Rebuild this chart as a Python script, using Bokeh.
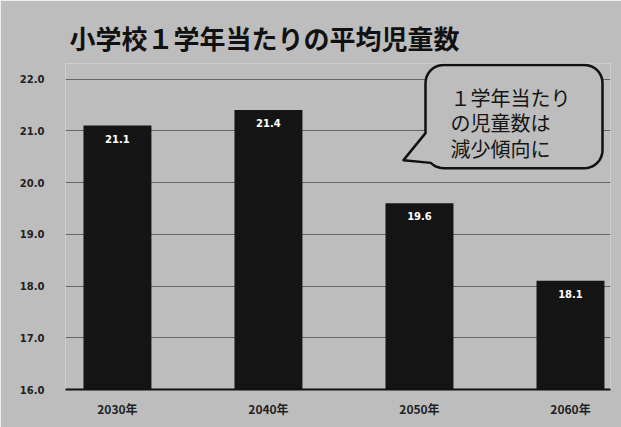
import numpy as np
from bokeh.plotting import figure
from bokeh.models import Range1d, FixedTicker, NumeralTickFormatter
from bokeh.core.properties import value
from bokeh.embed import file_html
from bokeh.resources import INLINE

# ---- data ----
years = ["2030年", "2040年", "2050年", "2060年"]
students = [21.1, 21.4, 19.6, 18.1]
value_labels = ["21.1", "21.4", "19.6", "18.1"]
y_ticks = [16, 17, 18, 19, 20, 21, 22]
title_text = "小学校１学年当たりの平均児童数"
callout_lines = ["１学年当たり", "の児童数は", "減少傾向に"]

# ---- style / layout ----
BG = "#bdbdbd"
BAR = "#141414"
JP = "Noto Sans CJK JP"
W, H = 621, 427

X_START, X_END = -0.344, 3.265
Y_START, Y_END = 16.0, 22.3
FRAME_L, FRAME_R, FRAME_T, FRAME_B = 65, 610, 63.5, 389  # canvas px


def dx(px):  # canvas px -> data x
    return X_START + (px - FRAME_L) / (FRAME_R - FRAME_L) * (X_END - X_START)


def dy(py):  # canvas px -> data y
    return Y_START + (FRAME_B - py) / (FRAME_B - FRAME_T) * (Y_END - Y_START)


xs = list(range(len(years)))

p = figure(width=W, height=H, output_backend="svg", toolbar_location=None,
           x_range=Range1d(X_START, X_END), y_range=Range1d(Y_START, Y_END),
           min_border_left=FRAME_L, min_border_right=W - FRAME_R,
           min_border_top=int(FRAME_T), min_border_bottom=H - FRAME_B,
           background_fill_color=BG, border_fill_color=BG, outline_line_color=None)

p.title.text = title_text
p.title.text_font = JP
p.title.text_font_size = "26px"
p.title.text_font_style = "bold"
p.title.text_color = "#111111"
p.title.align = "left"
p.title.offset = 4
p.title.standoff = 16

# grid
p.xgrid.grid_line_color = None
p.ygrid.ticker = FixedTicker(ticks=y_ticks)
p.ygrid.grid_line_color = "#2a2a2a"
p.ygrid.grid_line_alpha = 0.6
p.ygrid.grid_line_width = 1

# y axis
p.yaxis.ticker = FixedTicker(ticks=y_ticks)
p.yaxis.formatter = NumeralTickFormatter(format="0.0")
p.yaxis.axis_line_color = None
p.yaxis.major_tick_line_color = None
p.yaxis.minor_tick_line_color = None
p.yaxis.major_label_standoff = 15
p.yaxis.major_label_text_font = "DejaVu Sans"
p.yaxis.major_label_text_font_size = "10px"
p.yaxis.major_label_text_font_style = "bold"
p.yaxis.major_label_text_color = "#222222"

# x axis
p.xaxis.ticker = FixedTicker(ticks=xs)
p.xaxis.major_label_overrides = {i: y for i, y in zip(xs, years)}
p.xaxis.axis_line_color = "#111111"
p.xaxis.axis_line_width = 2
p.xaxis.major_tick_line_color = None
p.xaxis.minor_tick_line_color = None
p.xaxis.major_label_standoff = 4
p.xaxis.major_label_text_font = JP
p.xaxis.major_label_text_font_size = "12px"
p.xaxis.major_label_text_font_style = "bold"
p.xaxis.major_label_text_color = "#222222"

# bars
p.vbar(x=xs, top=students, bottom=y_ticks[0], width=0.45,
       fill_color=BAR, line_color=None)
p.text(x=xs, y=students, text=value_labels, text_color="white",
       text_font=value("DejaVu Sans"), text_font_size="10px", text_font_style="bold",
       text_align="center", text_baseline="middle", y_offset=13)

# callout bubble (canvas px geometry)
bx0, bx1, by0, by1, r = 425, 602, 65, 168, 18
tip = (403, 160)
base_left_y = 133

pts = []


def arc(cx, cy, a0, a1, n=12):
    for a in np.linspace(np.radians(a0), np.radians(a1), n):
        pts.append((cx + r * np.cos(a), cy - r * np.sin(a)))


pts.append((bx0 + r, by0))
pts.append((bx1 - r, by0))
arc(bx1 - r, by0 + r, 90, 0)
pts.append((bx1, by1 - r))
arc(bx1 - r, by1 - r, 0, -90)
pts.append((bx0 + r, by1))
arc(bx0 + r, by1 - r, -90, -135, 5)
pts.append(tip)
pts.append((bx0, base_left_y))
pts.append((bx0, by0 + r))
arc(bx0 + r, by0 + r, 180, 90)

p.patch([dx(a) for a, b in pts], [dy(b) for a, b in pts],
        fill_color=BG, line_color="#111111", line_width=2.5, line_join="round")

tx = 450
ty = [97, 122, 148]
p.text(x=[dx(tx)] * len(callout_lines), y=[dy(t) for t in ty], text=callout_lines,
       text_font=value(JP), text_font_size="20px", text_color="#151515",
       text_align="left", text_baseline="middle")

open("out.html", "w").write(file_html(p, INLINE))
